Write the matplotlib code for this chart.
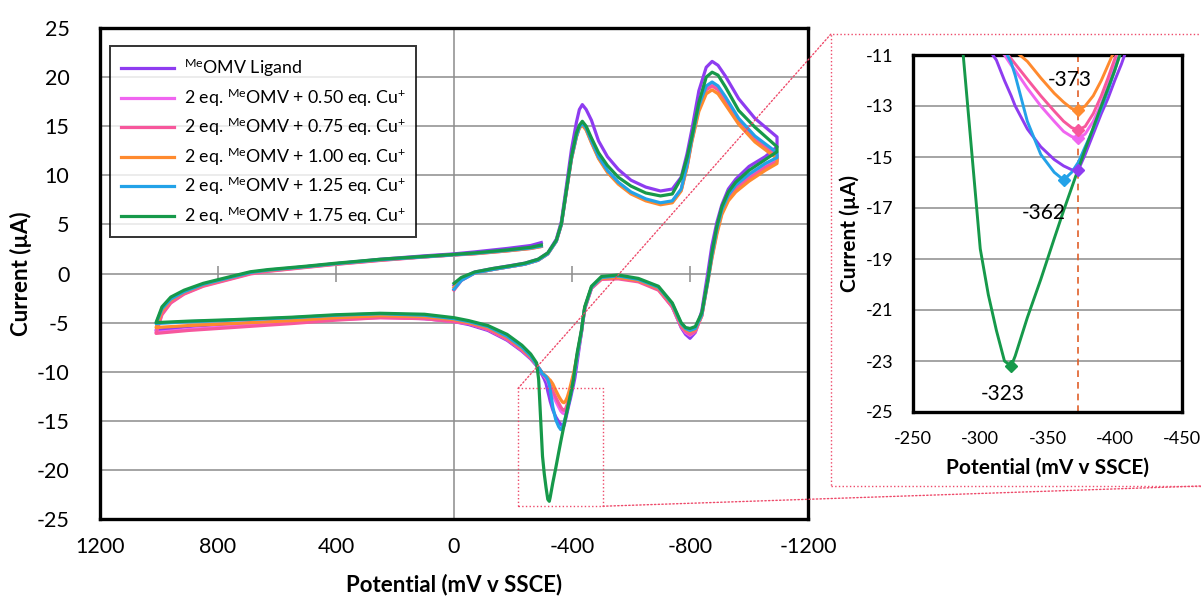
import matplotlib
matplotlib.use("Agg")
import matplotlib.pyplot as plt
from matplotlib.patches import Rectangle, ConnectionPatch

# ---------------- data (mV v SSCE, uA) ----------------
# forward scan 0 -> -1095 mV
E_FWD = [0, -25, -70, -130, -190, -240, -285, -318, -347, -364, -381, -398, -415,
         -425, -435, -448, -466, -490, -520, -557, -600, -650, -700, -740, -770,
         -790, -806, -830, -855, -875, -895, -920, -965, -1020, -1095]
# return scan -1095 -> +1010 mV
E_REV = [-1095, -1055, -1000, -955, -930, -908, -891, -874, -861, -840, -818, -800,
         -785, -770, -740, -693, -625, -557, -500, -466, -443, -432, -418, -410,
         -405, -400, -395, -390, -384, -378, -373, -368, -362, -355, -345, -335,
         -326, -323, -318, -312, -306, -300, -294, -287, -280, -260, -230, -180,
         -115, -50, 0, 100, 250, 400, 550, 750, 900, 1010]
# last scan +1010 -> -296 mV
E_END = [1010, 990, 960, 915, 850, 760, 690, 630, 500, 400, 250, 100, 0, -70,
         -180, -260, -296]

potential = E_FWD + E_REV + E_END

i_ligand = (
    [-1.2, -0.5, 0.15, 0.5, 0.8, 1.05, 1.45, 2.1, 3.5, 5.3, 8.9, 12.6, 15.4,
     16.7, 17.2, 16.7, 15.6, 13.5, 11.9, 10.6, 9.5, 8.8, 8.4, 8.6, 9.8,
     12.2, 14.6, 18.6, 21.0, 21.6, 21.2, 20.1, 17.8, 15.8, 13.9]
    + [12.9, 11.9, 10.9, 9.6, 8.6, 7.0, 5.2, 2.8, 0.2, -3.8, -6.0, -6.6,
       -6.2, -5.5, -3.4, -1.6, -0.7, -0.35, -0.5, -1.5, -3.6, -6.0, -8.9, -10.6,
       -11.35, -12.0, -12.7, -13.3, -14.1, -14.9, -15.5, -15.5, -15.35, -15.1, -14.6, -13.9,
       -13.0, -12.6, -12.0, -11.2, -10.75, -10.4, -10.1, -9.7, -9.4, -8.7, -7.9, -6.8,
       -5.8, -5.2, -4.9, -4.6, -4.4, -4.5, -4.8, -5.1, -5.4, -5.8]
    + [-5.8, -3.9, -2.8, -1.95, -1.2, -0.5, 0.05, 0.3, 0.7, 1.0, 1.45, 1.8, 2.0, 2.2,
       2.55, 2.85, 3.15]
)
i_050 = (
    [-1.6, -0.7, 0.05, 0.4, 0.7, 0.95, 1.35, 2.0, 3.3, 5.0, 8.4, 11.7, 14.0,
     14.9, 15.2, 14.7, 13.4, 11.8, 10.4, 9.2, 8.2, 7.5, 7.1, 7.3, 8.5,
     11.0, 13.6, 16.9, 18.9, 19.3, 18.9, 17.8, 15.6, 13.8, 12.2]
    + [11.6, 11.0, 9.9, 8.8, 7.9, 6.4, 4.4, 1.8, -0.5, -4.3, -5.9, -6.3,
       -6.0, -5.4, -3.4, -1.6, -0.75, -0.45, -0.55, -1.5, -3.6, -6.0, -8.3, -9.8,
       -10.7, -11.4, -12.2, -12.9, -13.6, -14.1, -14.27, -14.2, -14.0, -13.6, -13.0, -12.3,
       -11.6, -11.4, -11.0, -10.7, -10.45, -10.2, -9.9, -9.6, -9.3, -8.6, -7.8, -6.7,
       -5.7, -5.1, -4.9, -4.6, -4.5, -4.7, -5.0, -5.4, -5.7, -6.0]
    + [-6.0, -4.1, -2.95, -2.05, -1.25, -0.55, 0.0, 0.25, 0.65, 0.95, 1.35, 1.7, 1.9, 2.05,
       2.35, 2.6, 2.8]
)
i_075 = (
    [-1.7, -0.7, 0.05, 0.4, 0.7, 0.95, 1.35, 2.0, 3.3, 5.0, 8.4, 11.7, 14.0,
     14.9, 15.2, 14.7, 13.4, 11.8, 10.4, 9.2, 8.2, 7.5, 7.1, 7.3, 8.5,
     10.9, 13.5, 16.8, 18.7, 19.1, 18.7, 17.6, 15.4, 13.6, 12.0]
    + [11.4, 10.8, 9.7, 8.6, 7.7, 6.2, 4.2, 1.6, -0.6, -4.3, -5.9, -6.2,
       -5.9, -5.4, -3.4, -1.7, -0.85, -0.55, -0.6, -1.5, -3.6, -6.0, -8.3, -9.7,
       -10.5, -11.15, -11.9, -12.6, -13.3, -13.8, -13.94, -13.85, -13.6, -13.2, -12.6, -11.95,
       -11.35, -11.15, -10.85, -10.6, -10.4, -10.15, -9.9, -9.6, -9.3, -8.6, -7.8, -6.7,
       -5.7, -5.1, -4.9, -4.6, -4.5, -4.75, -5.1, -5.5, -5.8, -6.1]
    + [-6.1, -4.2, -3.0, -2.1, -1.3, -0.6, -0.05, 0.22, 0.62, 0.93, 1.33, 1.68, 1.88, 2.0,
       2.3, 2.55, 2.75]
)
i_100 = (
    [-1.4, -0.6, 0.05, 0.4, 0.7, 0.95, 1.35, 2.0, 3.3, 5.0, 8.3, 11.6, 13.9,
     14.8, 15.1, 14.6, 13.3, 11.7, 10.3, 9.1, 8.1, 7.4, 7.0, 7.2, 8.4,
     10.8, 13.4, 16.5, 18.3, 18.7, 18.3, 17.2, 15.2, 13.4, 11.7]
    + [11.2, 10.5, 9.4, 8.3, 7.4, 6.0, 4.0, 1.5, -0.8, -4.3, -5.7, -5.9,
       -5.7, -5.2, -3.2, -1.5, -0.7, -0.4, -0.5, -1.4, -3.5, -5.9, -8.2, -9.5,
       -10.2, -10.8, -11.4, -12.0, -12.6, -13.0, -13.16, -13.1, -12.85, -12.5, -11.9, -11.25,
       -10.85, -10.8, -10.6, -10.45, -10.3, -10.1, -9.9, -9.6, -9.3, -8.5, -7.6, -6.5,
       -5.5, -5.0, -4.7, -4.4, -4.3, -4.5, -4.8, -5.1, -5.3, -5.5]
    + [-5.5, -3.8, -2.7, -1.9, -1.15, -0.45, 0.08, 0.32, 0.68, 0.98, 1.38, 1.7, 1.9, 2.02,
       2.3, 2.55, 2.75]
)
i_125 = (
    [-1.6, -0.7, 0.05, 0.4, 0.7, 0.95, 1.35, 2.0, 3.3, 5.0, 8.4, 11.7, 14.0,
     14.9, 15.3, 14.8, 13.5, 11.9, 10.5, 9.3, 8.3, 7.6, 7.2, 7.4, 8.6,
     11.1, 13.7, 17.1, 19.1, 19.5, 19.1, 18.0, 15.8, 14.0, 12.3]
    + [11.8, 11.2, 10.1, 9.0, 8.0, 6.5, 4.5, 1.8, -0.7, -4.2, -5.6, -5.8,
       -5.6, -5.1, -3.1, -1.4, -0.6, -0.25, -0.4, -1.4, -3.5, -5.9, -8.3, -9.9,
       -10.8, -11.6, -12.4, -13.1, -13.9, -14.6, -15.2, -15.6, -15.9, -15.6, -14.9, -13.6,
       -11.8, -11.3, -10.8, -10.5, -10.35, -10.2, -9.9, -9.6, -9.3, -8.4, -7.5, -6.4,
       -5.4, -4.9, -4.6, -4.25, -4.1, -4.25, -4.5, -4.75, -4.9, -5.1]
    + [-5.1, -3.6, -2.6, -1.85, -1.1, -0.42, 0.1, 0.35, 0.7, 1.0, 1.4, 1.7, 1.9, 2.05,
       2.35, 2.6, 2.8]
)
i_175 = (
    [-1.0, -0.4, 0.15, 0.5, 0.78, 1.05, 1.45, 2.1, 3.4, 5.1, 8.5, 11.9, 14.3,
     15.1, 15.5, 15.0, 13.8, 12.3, 11.0, 9.8, 8.9, 8.2, 7.9, 8.1, 9.7,
     11.8, 13.9, 17.4, 20.0, 20.5, 20.2, 19.0, 16.6, 14.9, 12.9]
    + [12.4, 11.6, 10.5, 9.3, 8.3, 6.8, 4.8, 2.1, -0.5, -4.0, -5.4, -5.6,
       -5.5, -5.0, -3.0, -1.3, -0.5, -0.15, -0.3, -1.3, -3.4, -5.75, -8.0, -9.6,
       -10.8, -11.6, -12.3, -13.0, -13.85, -14.7, -15.45, -16.2, -17.1, -18.2, -19.8, -21.3,
       -22.8, -23.2, -23.0, -21.8, -20.4, -18.6, -15.0, -10.8, -9.1, -8.2, -7.3, -6.2,
       -5.3, -4.8, -4.5, -4.15, -4.05, -4.2, -4.45, -4.7, -4.85, -5.0]
    + [-5.0, -3.4, -2.4, -1.7, -1.0, -0.33, 0.18, 0.4, 0.75, 1.05, 1.45, 1.75, 1.95, 2.1,
       2.4, 2.67, 2.9]
)

LABELS = [
    r"$^{\mathrm{Me}}$OMV Ligand",
    r"2 eq. $^{\mathrm{Me}}$OMV + 0.50 eq. Cu$^{+}$",
    r"2 eq. $^{\mathrm{Me}}$OMV + 0.75 eq. Cu$^{+}$",
    r"2 eq. $^{\mathrm{Me}}$OMV + 1.00 eq. Cu$^{+}$",
    r"2 eq. $^{\mathrm{Me}}$OMV + 1.25 eq. Cu$^{+}$",
    r"2 eq. $^{\mathrm{Me}}$OMV + 1.75 eq. Cu$^{+}$",
]
CURRENTS = [i_ligand, i_050, i_075, i_100, i_125, i_175]
COLORS = ["#8e3cf0", "#f065f0", "#f7579c", "#ff8a2e", "#23a2e8", "#16994a"]

# cathodic peak picks (potential, current) for each trace
PEAK_E = [-373, -373, -373, -373, -362, -323]
PEAK_I = [-15.5, -14.27, -13.94, -13.16, -15.9, -23.2]
PEAK_LABELLED = [3, 4, 5]
LABEL_OFFSETS = {3: (-6, 22), 4: (-14, -24), 5: (-6, -20)}

for cur in CURRENTS:
    assert len(cur) == len(potential)

# ---------------- style ----------------
plt.rcParams["font.family"] = ["Lato", "DejaVu Sans"]
plt.rcParams["mathtext.fontset"] = "custom"
plt.rcParams["mathtext.rm"] = "Lato"
plt.rcParams["mathtext.it"] = "Lato:italic"
plt.rcParams["mathtext.bf"] = "Lato:bold"
plt.rcParams["axes.unicode_minus"] = False

W, H = 1201, 599
GRID = "#8c8c8c"
CALLOUT = "#ee4a6a"

fig = plt.figure(figsize=(W / 100, H / 100), dpi=100)

# ---------------- main voltammogram ----------------
ax = fig.add_axes([100 / W, 1 - 519 / H, 708 / W, 491 / H])
for cur, col, lab in zip(CURRENTS, COLORS, LABELS):
    ax.plot(potential, cur, color=col, lw=2.3, label=lab, zorder=3,
            solid_joinstyle="round")

ax.set_xlim(1200, -1200)
ax.set_ylim(-25, 25)
ax.set_xticks([1200, 800, 400, 0, -400, -800, -1200])
ax.set_yticks(range(-25, 26, 5))
for y in range(-25, 26, 5):
    if -25 < y < 25:
        ax.axhline(y, color=GRID, lw=1.1, zorder=1)
ax.axvline(0, color=GRID, lw=1.1, zorder=1)
# cross tick marks on the zero line
ax.plot([800, 400, -400, -800, -1200], [0] * 5, ls="none", marker="|",
        ms=11, mew=1.1, color=GRID, zorder=1, clip_on=False)
ax.tick_params(length=0, labelsize=15.5, colors="black")
ax.tick_params(axis="y", pad=22)
ax.tick_params(axis="x", pad=13)
for sp in ax.spines.values():
    sp.set_linewidth(2.4)
    sp.set_color("black")
ax.set_xlabel("Potential (mV v SSCE)", fontsize=16, fontweight="bold", labelpad=12)
ax.set_ylabel("Current (\u00b5A)", fontsize=16, fontweight="bold", labelpad=3)

leg = ax.legend(loc="upper left", bbox_to_anchor=(0.014, 0.963), borderaxespad=0,
                fontsize=12.8, frameon=True, fancybox=False, handlelength=3.0,
                labelspacing=0.4, borderpad=0.6, handletextpad=0.55)
leg.get_frame().set_edgecolor("black")
leg.get_frame().set_linewidth(1.4)

# callout box around the cathodic peak
ax.add_patch(Rectangle((-217, -23.7), -288, 12.0, fill=False, ls=":",
                       lw=1.0, ec=CALLOUT, zorder=4))

# ---------------- zoomed inset ----------------
ins = fig.add_axes([913 / W, 1 - 412 / H, 269 / W, 357 / H])
for cur, col in zip(CURRENTS, COLORS):
    ins.plot(potential, cur, color=col, lw=2.1, zorder=3, solid_joinstyle="round")
for e, i, col in zip(PEAK_E, PEAK_I, COLORS):
    ins.plot(e, i, marker="D", ms=6.5, color=col, zorder=4)
for k in PEAK_LABELLED:
    ins.annotate(f"{PEAK_E[k]}", (PEAK_E[k], PEAK_I[k]),
                 xytext=LABEL_OFFSETS[k], textcoords="offset points",
                 ha="center", va="center", fontsize=15)
ins.axvline(-373, color="#e0602a", lw=1.2, ls=(0, (4, 3)), zorder=2)

ins.set_xlim(-250, -450)
ins.set_ylim(-25, -11)
ins.set_xticks(range(-250, -451, -50))
ins.set_yticks(range(-25, -10, 2))
for y in range(-23, -11, 2):
    ins.axhline(y, color=GRID, lw=1.1, zorder=1)
ins.tick_params(length=0, labelsize=13, colors="black")
ins.tick_params(axis="y", pad=14)
ins.tick_params(axis="x", pad=14)
for sp in ins.spines.values():
    sp.set_linewidth(2.4)
    sp.set_color("black")
ins.set_xlabel("Potential (mV v SSCE)", fontsize=15, fontweight="bold", labelpad=7)
ins.set_ylabel("Current (\u00b5A)", fontsize=15, fontweight="bold", labelpad=4)

# outer dotted frame round the inset and connector lines
fig.add_artist(Rectangle((831 / W, 1 - 486 / H), 400 / W, 452 / H,
                         transform=fig.transFigure, fill=False, ls=":",
                         lw=1.0, ec=CALLOUT, clip_on=False))
fig.add_artist(ConnectionPatch(xyA=(-217, -11.7), coordsA=ax.transData,
                               xyB=(831 / W, 1 - 34 / H), coordsB=fig.transFigure,
                               ls=":", lw=1.0, color=CALLOUT))
fig.add_artist(ConnectionPatch(xyA=(-505, -23.7), coordsA=ax.transData,
                               xyB=(1.0, 1 - 486 / H), coordsB=fig.transFigure,
                               ls=":", lw=1.0, color=CALLOUT))

fig.savefig("out.png", dpi=100)
